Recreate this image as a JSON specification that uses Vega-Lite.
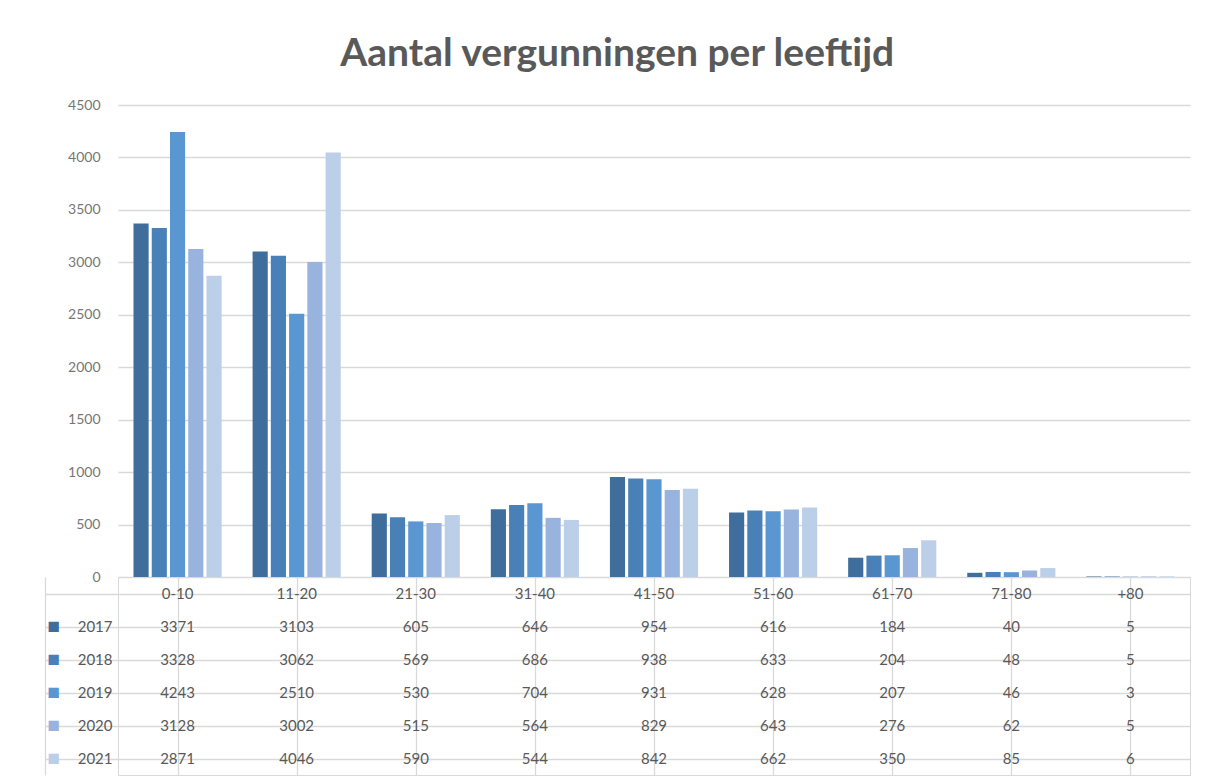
{
  "$schema": "https://vega.github.io/schema/vega-lite/v6.json",
  "background": "white",
  "padding": {"left": 43, "top": 35, "right": 22, "bottom": 6},
  "autosize": {"type": "pad"},
  "bounds": "flush",
  "title": {"text": "Aantal vergunningen per leeftijd", "fontSize": 39, "font": "Lato", "fontWeight": "bold", "color": "#595959", "offset": 24, "anchor": "middle"},
  "config": {"font": "Lato", "concat": {"spacing": 0}},
  "datasets": {
    "counts": [
      {"age": "0-10", "year": "2017", "value": 3371}, {"age": "11-20", "year": "2017", "value": 3103}, {"age": "21-30", "year": "2017", "value": 605}, {"age": "31-40", "year": "2017", "value": 646}, {"age": "41-50", "year": "2017", "value": 954}, {"age": "51-60", "year": "2017", "value": 616}, {"age": "61-70", "year": "2017", "value": 184}, {"age": "71-80", "year": "2017", "value": 40}, {"age": "+80", "year": "2017", "value": 5},
      {"age": "0-10", "year": "2018", "value": 3328}, {"age": "11-20", "year": "2018", "value": 3062}, {"age": "21-30", "year": "2018", "value": 569}, {"age": "31-40", "year": "2018", "value": 686}, {"age": "41-50", "year": "2018", "value": 938}, {"age": "51-60", "year": "2018", "value": 633}, {"age": "61-70", "year": "2018", "value": 204}, {"age": "71-80", "year": "2018", "value": 48}, {"age": "+80", "year": "2018", "value": 5},
      {"age": "0-10", "year": "2019", "value": 4243}, {"age": "11-20", "year": "2019", "value": 2510}, {"age": "21-30", "year": "2019", "value": 530}, {"age": "31-40", "year": "2019", "value": 704}, {"age": "41-50", "year": "2019", "value": 931}, {"age": "51-60", "year": "2019", "value": 628}, {"age": "61-70", "year": "2019", "value": 207}, {"age": "71-80", "year": "2019", "value": 46}, {"age": "+80", "year": "2019", "value": 3},
      {"age": "0-10", "year": "2020", "value": 3128}, {"age": "11-20", "year": "2020", "value": 3002}, {"age": "21-30", "year": "2020", "value": 515}, {"age": "31-40", "year": "2020", "value": 564}, {"age": "41-50", "year": "2020", "value": 829}, {"age": "51-60", "year": "2020", "value": 643}, {"age": "61-70", "year": "2020", "value": 276}, {"age": "71-80", "year": "2020", "value": 62}, {"age": "+80", "year": "2020", "value": 5},
      {"age": "0-10", "year": "2021", "value": 2871}, {"age": "11-20", "year": "2021", "value": 4046}, {"age": "21-30", "year": "2021", "value": 590}, {"age": "31-40", "year": "2021", "value": 544}, {"age": "41-50", "year": "2021", "value": 842}, {"age": "51-60", "year": "2021", "value": 662}, {"age": "61-70", "year": "2021", "value": 350}, {"age": "71-80", "year": "2021", "value": 85}, {"age": "+80", "year": "2021", "value": 6}
    ],
    "ages": [
      {"age": "0-10", "row": " "}, {"age": "11-20", "row": " "}, {"age": "21-30", "row": " "}, {"age": "31-40", "row": " "}, {"age": "41-50", "row": " "}, {"age": "51-60", "row": " "}, {"age": "61-70", "row": " "}, {"age": "71-80", "row": " "}, {"age": "+80", "row": " "}
    ]
  },
  "vconcat": [
    {
      "width": 1072,
      "height": 472,
      "view": {"stroke": null},
      "data": {"name": "counts"},
      "mark": {"type": "bar"},
      "encoding": {
        "x": {"field": "age", "type": "nominal", "sort": null,
              "scale": {"paddingInner": 0.26, "paddingOuter": 0.13},
              "axis": null},
        "xOffset": {"field": "year", "type": "nominal", "scale": {"paddingInner": 0.17}},
        "y": {"field": "value", "type": "quantitative",
              "scale": {"domain": [0, 4500], "nice": false},
              "axis": {"values": [0, 500, 1000, 1500, 2000, 2500, 3000, 3500, 4000, 4500], "format": "d", "title": null, "domain": false, "ticks": false, "labelPadding": 18, "labelFontSize": 14, "labelColor": "#767676", "gridColor": "#d9d9d9", "gridWidth": 1.3}},
        "color": {"field": "year", "type": "nominal",
                  "scale": {"domain": ["2017", "2018", "2019", "2020", "2021"], "range": ["#3f6e9c", "#4a80b8", "#5a96d2", "#98b4de", "#bccfe9"]},
                  "legend": null}
      }
    },
    {
      "width": 1072,
      "height": 198,
      "view": {"stroke": "#d9d9d9"},
      "resolve": {"axis": {"y": "independent"}},
      "layer": [
        {
          "data": {"name": "counts"},
          "mark": {"type": "text", "fontSize": 15, "color": "#595959"},
          "encoding": {
            "x": {"field": "age", "type": "nominal", "sort": ["0-10", "11-20", "21-30", "31-40", "41-50", "51-60", "61-70", "71-80", "+80"],
                  "scale": {"domain": ["0-10", "11-20", "21-30", "31-40", "41-50", "51-60", "61-70", "71-80", "+80"], "paddingInner": 0, "paddingOuter": 0},
                  "axis": {"labels": false, "ticks": false, "domain": false, "title": null, "grid": true, "bandPosition": 0, "gridColor": "#d9d9d9", "gridWidth": 1.3}},
            "y": {"field": "year", "type": "nominal",
                  "scale": {"domain": [" ", "2017", "2018", "2019", "2020", "2021"], "paddingInner": 0, "paddingOuter": 0},
                  "axis": {"orient": "left", "title": null, "domain": true, "domainColor": "#d9d9d9", "ticks": true, "tickSize": 73, "tickColor": "#d9d9d9", "tickWidth": 1.3, "bandPosition": 1, "grid": true, "gridColor": "#d9d9d9", "gridWidth": 1.3, "labelPadding": -67, "labelFontSize": 15, "labelColor": "#595959"}},
            "text": {"field": "value", "type": "quantitative"}
          }
        },
        {
          "data": {"name": "ages"},
          "mark": {"type": "text", "fontSize": 15, "color": "#595959"},
          "encoding": {
            "x": {"field": "age", "type": "nominal", "sort": ["0-10", "11-20", "21-30", "31-40", "41-50", "51-60", "61-70", "71-80", "+80"]},
            "y": {"field": "row", "type": "nominal",
                  "axis": {"orient": "left", "offset": 73, "title": null, "domain": true, "domainColor": "#d9d9d9", "domainWidth": 1.3, "ticks": false, "grid": false,
                           "labelExpr": "datum.value === ' ' ? '' : '■'", "labelAlign": "left", "labelPadding": -2, "labelFontSize": 21,
                           "labelColor": {"condition": [
                             {"test": "datum.value === '2017'", "value": "#3f6e9c"},
                             {"test": "datum.value === '2018'", "value": "#4a80b8"},
                             {"test": "datum.value === '2019'", "value": "#5a96d2"},
                             {"test": "datum.value === '2020'", "value": "#98b4de"}
                           ], "value": "#bccfe9"}}},
            "text": {"field": "age", "type": "nominal"}
          }
        }
      ]
    }
  ]
}
